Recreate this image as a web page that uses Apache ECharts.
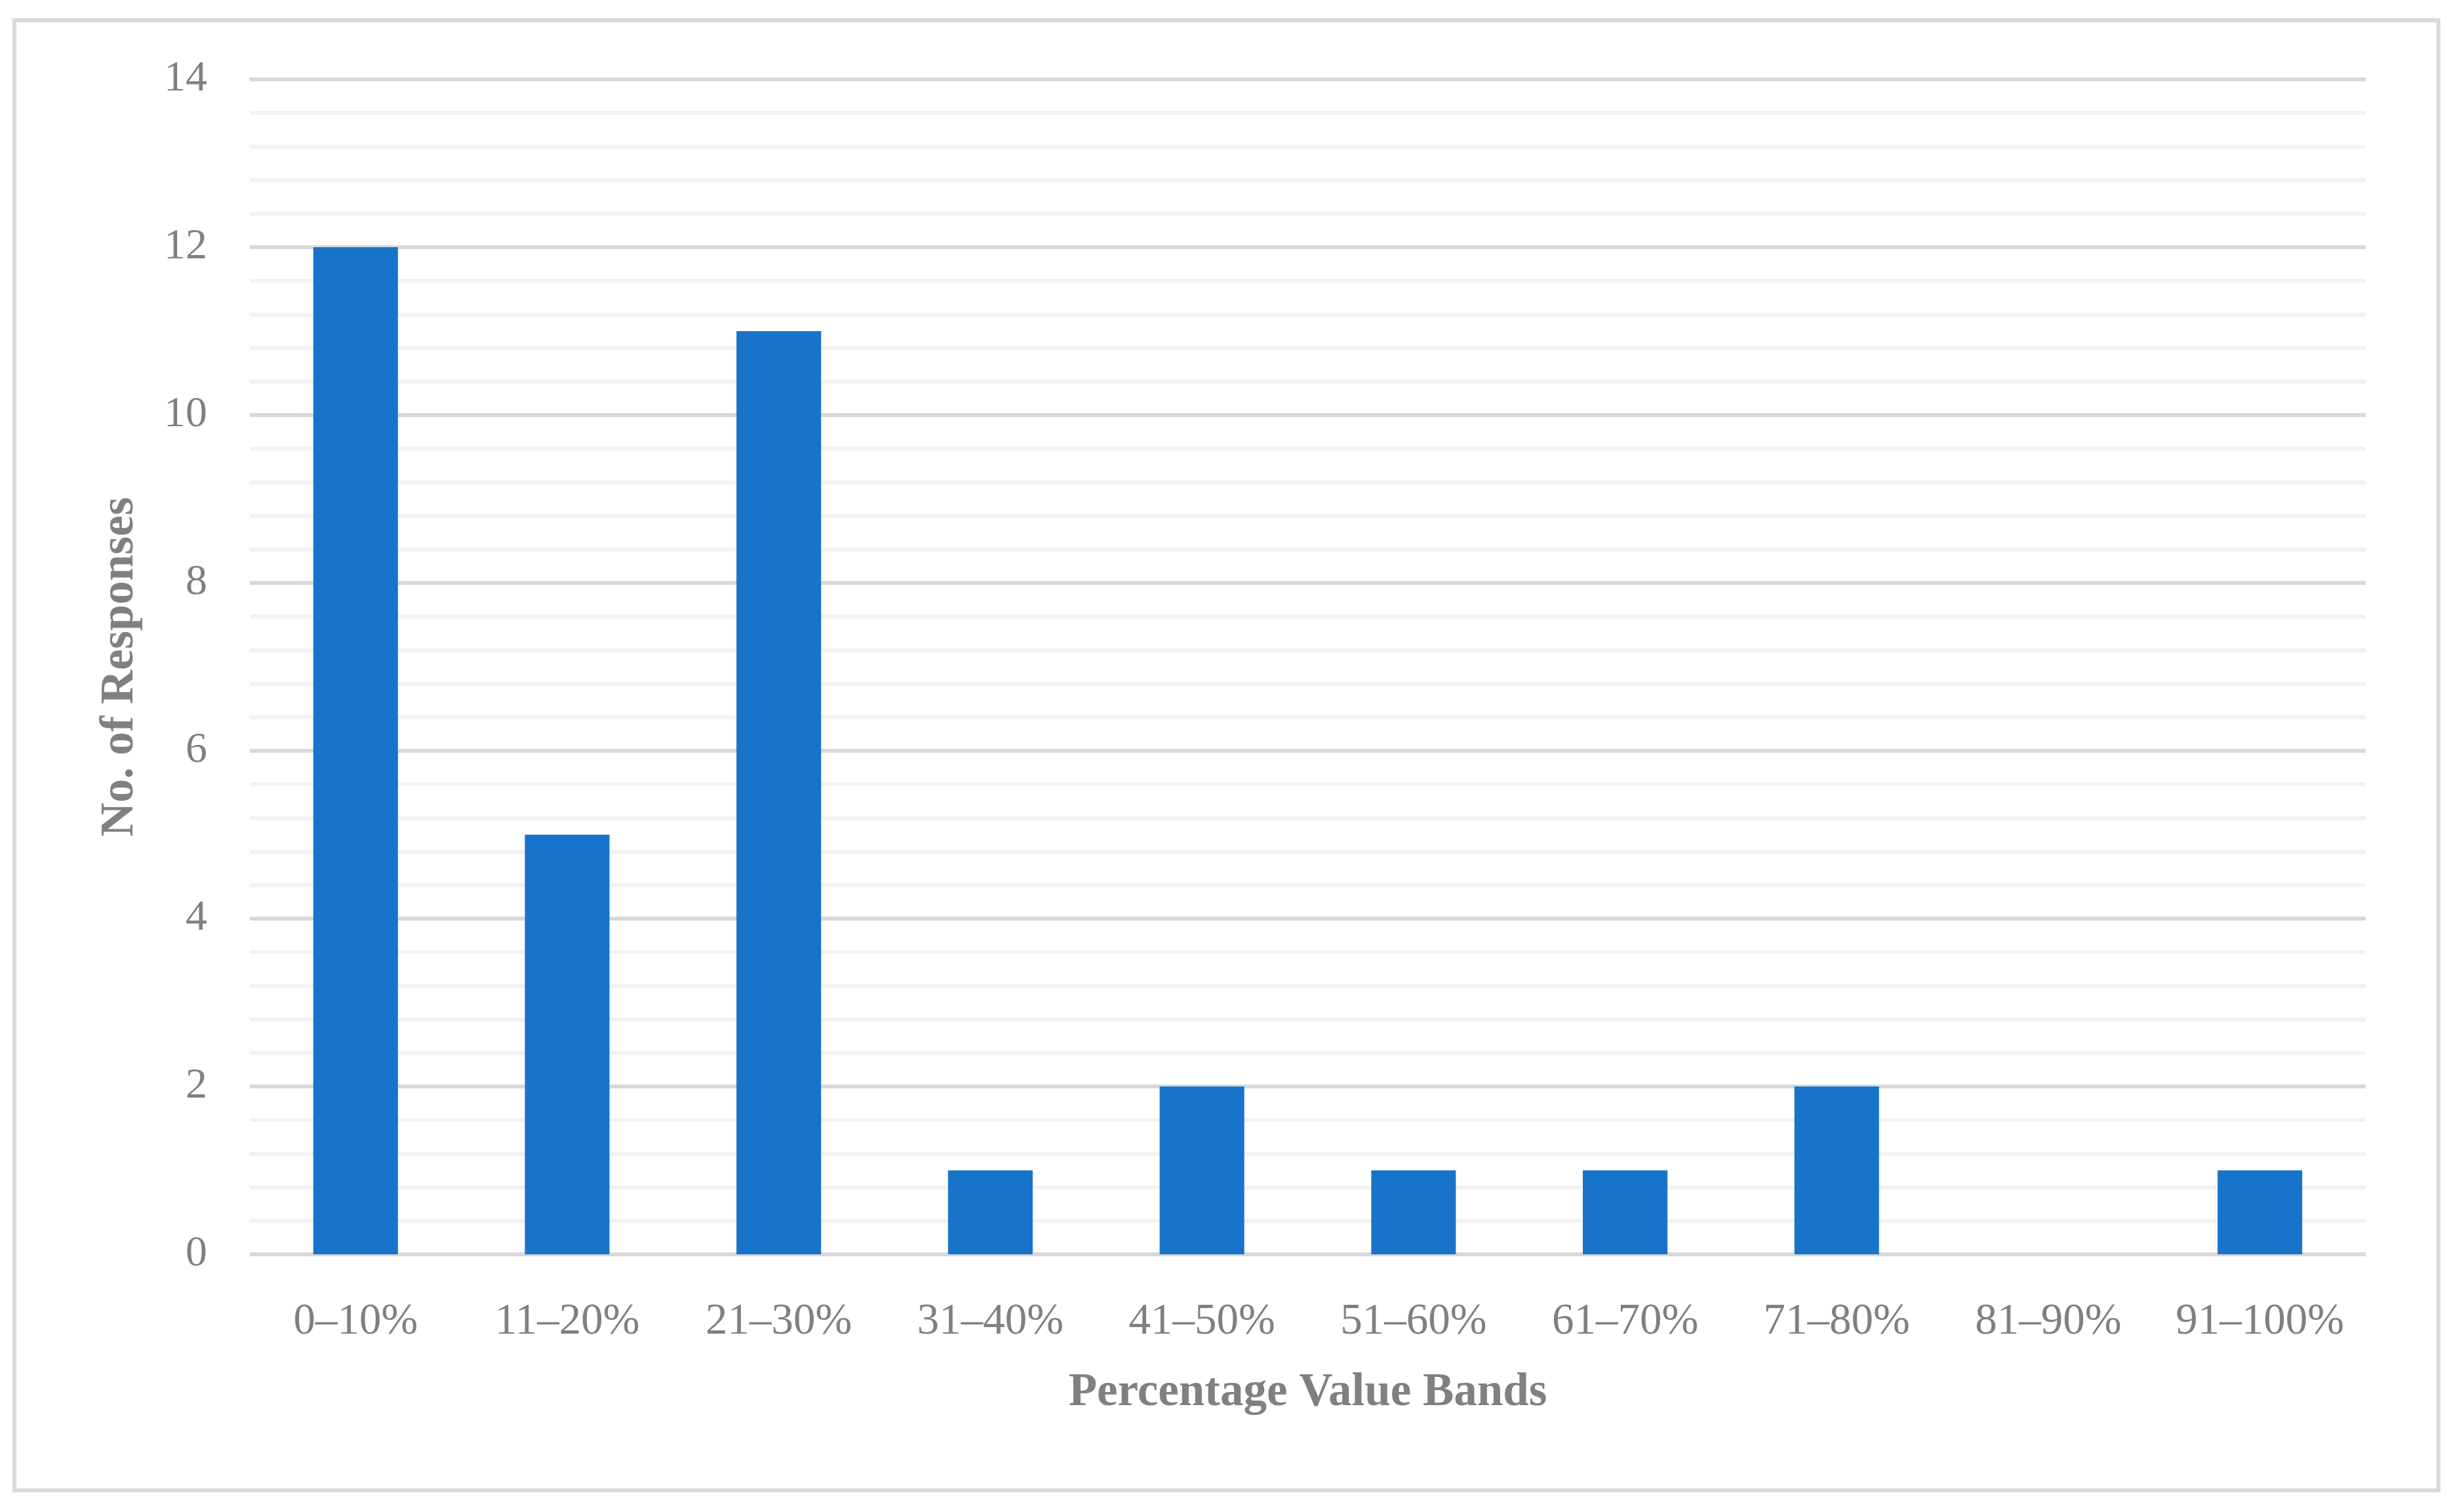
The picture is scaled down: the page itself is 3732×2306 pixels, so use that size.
<!DOCTYPE html>
<html>
<head>
<meta charset="utf-8">
<script src="https://cdn.jsdelivr.net/npm/echarts@6/dist/echarts.min.js"></script>
<style>
html,body{margin:0;padding:0;background:#fff;}
#c{width:3732px;height:2306px;}
</style>
</head>
<body>
<div id="c"></div>
<script>
var categories = ['0–10%', '11–20%', '21–30%', '31–40%', '41–50%', '51–60%', '61–70%', '71–80%', '81–90%', '91–100%'];
var responses = [12, 5, 11, 1, 2, 1, 1, 2, 0, 1];
var yTicks = [0, 2, 4, 6, 8, 10, 12, 14];

var chart = echarts.init(document.getElementById('c'), null, {renderer: 'canvas'});
var FONT = '"Liberation Serif", "DejaVu Serif", serif';
var TXT = '#808080';
chart.setOption({
  backgroundColor: '#ffffff',
  animation: false,
  graphic: [{
    type: 'rect',
    shape: {x: 22, y: 31, width: 3697, height: 2242},
    style: {fill: 'none', stroke: '#d9d9d9', lineWidth: 6},
    silent: true
  }],
  grid: {left: 381, right: 124, top: 121, bottom: 393},
  xAxis: {
    type: 'category',
    data: categories,
    axisLine: {show: false},
    axisTick: {show: false},
    axisLabel: {color: TXT, fontFamily: FONT, fontSize: 67, margin: 70, interval: 0},
    name: 'Percentage Value Bands',
    nameLocation: 'middle',
    nameGap: 176,
    nameTextStyle: {color: TXT, fontFamily: FONT, fontSize: 71, fontWeight: 'bold', verticalAlign: 'top'}
  },
  yAxis: {
    type: 'value',
    min: yTicks[0],
    max: yTicks[yTicks.length - 1],
    interval: 2,
    axisLine: {show: false},
    axisTick: {show: false},
    axisLabel: {color: TXT, fontFamily: FONT, fontSize: 66, margin: 65},
    splitLine: {show: true, lineStyle: {color: '#d9d9d9', width: 6}},
    minorTick: {show: false, splitNumber: 5},
    minorSplitLine: {show: true, lineStyle: {color: '#f2f2f2', width: 6}},
    name: 'No. of Responses',
    nameLocation: 'middle',
    nameGap: 162,
    nameTextStyle: {color: TXT, fontFamily: FONT, fontSize: 72, fontWeight: 'bold'}
  },
  series: [{
    type: 'bar',
    data: responses,
    barWidth: '40%',
    itemStyle: {color: '#1874ca'},
    z: 3
  }]
});
</script>
</body>
</html>
